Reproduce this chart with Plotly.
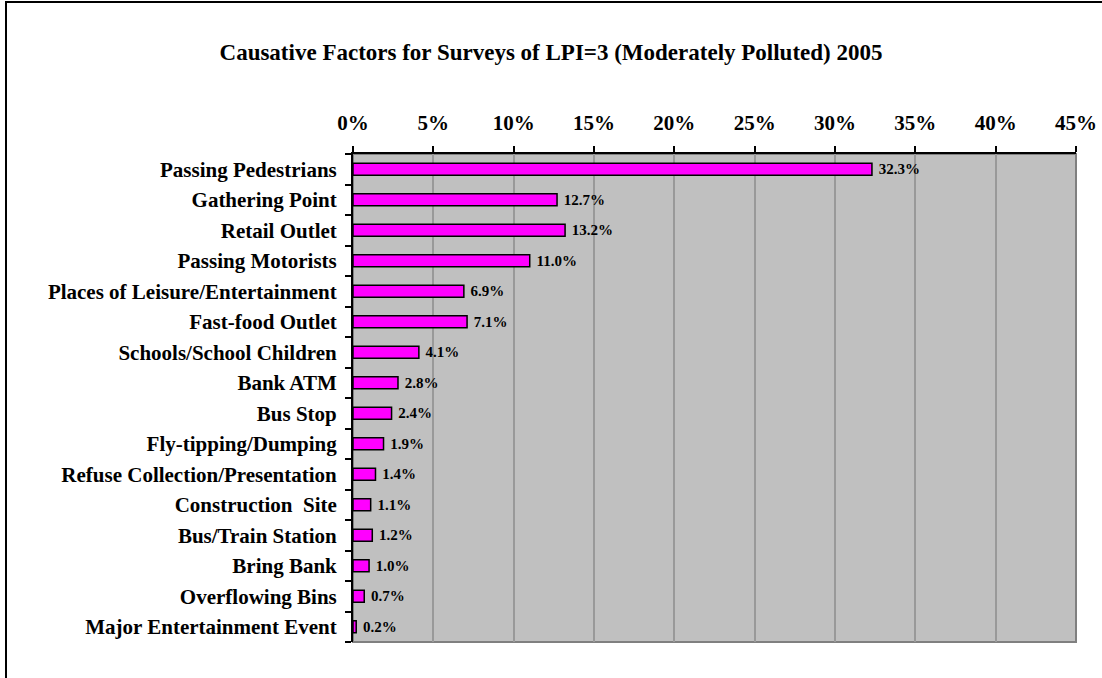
import plotly.graph_objects as go

categories = ["Passing Pedestrians", "Gathering Point", "Retail Outlet", "Passing Motorists",
              "Places of Leisure/Entertainment", "Fast-food Outlet", "Schools/School Children",
              "Bank ATM", "Bus Stop", "Fly-tipping/Dumping", "Refuse Collection/Presentation",
              "Construction  Site", "Bus/Train Station", "Bring Bank", "Overflowing Bins",
              "Major Entertainment Event"]
values = [32.3, 12.7, 13.2, 11.0, 6.9, 7.1, 4.1, 2.8, 2.4, 1.9, 1.4, 1.1, 1.2, 1.0, 0.7, 0.2]
ticks = [0, 5, 10, 15, 20, 25, 30, 35, 40, 45]

font = "Liberation Serif, Times New Roman, serif"

fig = go.Figure()
fig.add_trace(go.Bar(
    y=categories, x=values, orientation='h',
    marker=dict(color='#FF00FF', line=dict(color='black', width=1.5)),
    texttemplate='&nbsp;<b>%{x:.1f}%</b>', textposition='outside', constraintext='none',
    textfont=dict(family=font, size=15, color='black'),
    cliponaxis=False, width=0.4
))

fig.update_layout(
    width=1102, height=678,
    margin=dict(l=353, r=26, t=154, b=36),
    plot_bgcolor='#C0C0C0', paper_bgcolor='white',
    showlegend=False,
    font=dict(family=font, color='black'),
    title=dict(text="<b>Causative Factors for Surveys of LPI=3 (Moderately Polluted) 2005</b>",
               x=0.5, xref='container', xanchor='center', y=1 - 52 / 678, yanchor='middle',
               font=dict(size=23, family=font)),
)

fig.update_xaxes(
    side='top', range=[0, 45], tickvals=ticks, ticktext=[f"<b>{t}%</b>" for t in ticks],
    tickfont=dict(size=21), ticks='outside', ticklen=6, tickwidth=2, tickcolor='black',
    showline=True, linecolor='black', linewidth=2,
    showgrid=True, gridcolor='#999999', gridwidth=2, zeroline=False,
    ticklabelstandoff=8, automargin=False
)
fig.update_yaxes(
    autorange='reversed', type='category',
    tickvals=categories, ticktext=[f"<b>{c}</b>" for c in categories],
    tickfont=dict(size=21), ticks='outside', tickson='boundaries', ticklen=6,
    tickwidth=2, tickcolor='black',
    showline=True, linecolor='black', linewidth=2, ticklabelstandoff=10, automargin=False
)

# plot-area border (grey right/bottom) and the outer chart frame
fig.add_shape(type='rect', xref='paper', yref='paper', x0=0, x1=1, y0=0, y1=1,
              line=dict(color='#808080', width=2), layer='below')
fig.add_shape(type='rect', xref='paper', yref='paper',
              x0=(6 - 353) / 723, x1=(1120 - 353) / 723,
              y0=(642 - 700) / 488, y1=(642 - 2) / 488,
              line=dict(color='black', width=2))

fig.write_html("out.html", config={'displayModeBar': False},
               post_script="document.body.style.margin='0';")
